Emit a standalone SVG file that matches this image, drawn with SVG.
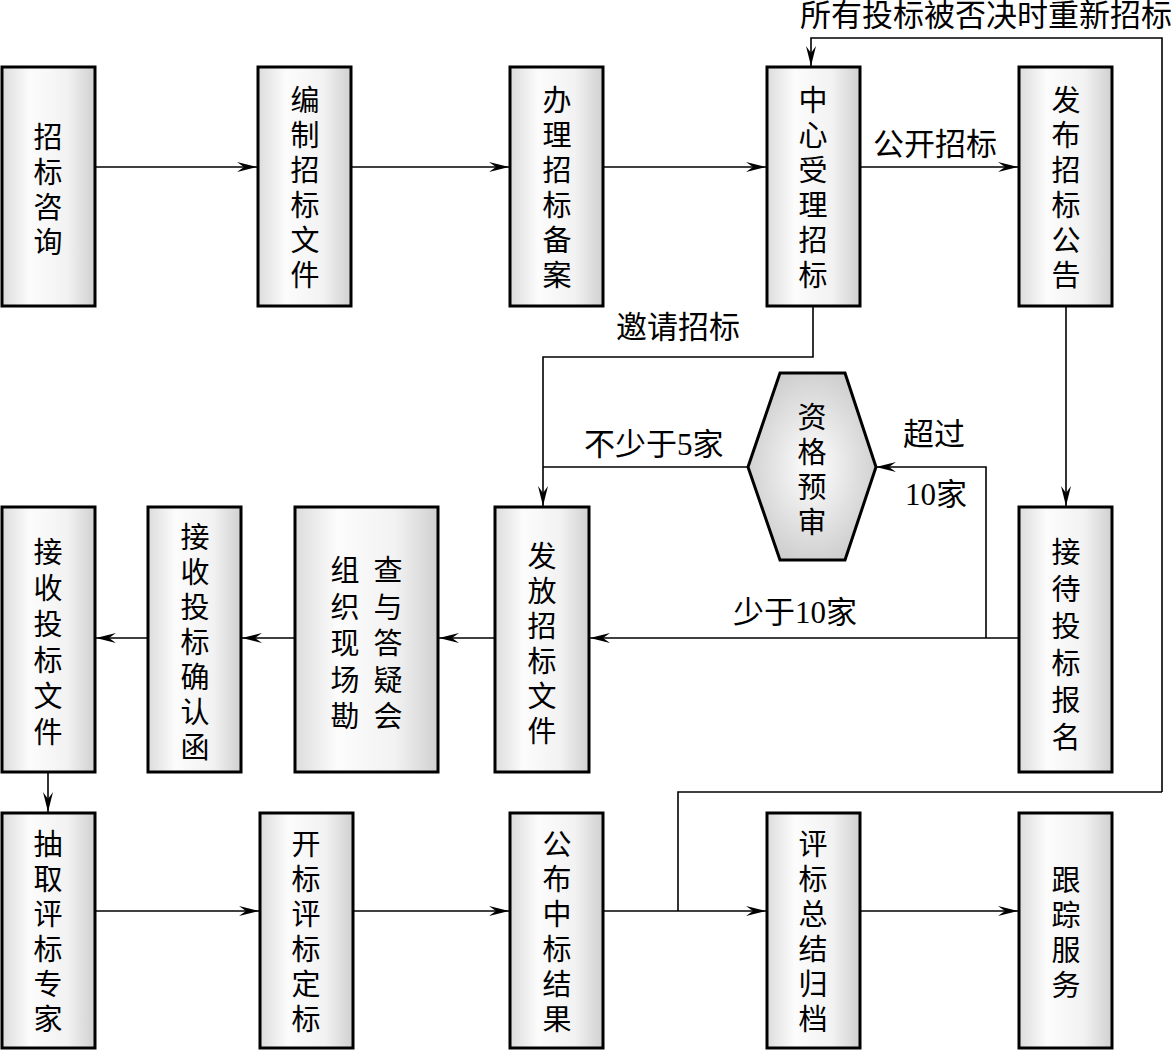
<svg xmlns="http://www.w3.org/2000/svg" width="1172" height="1050" viewBox="0 0 1172 1050">
<defs>
<linearGradient id="boxg" x1="0" y1="0" x2="1" y2="0">
<stop offset="0" stop-color="#dcdcdc"/>
<stop offset="0.3" stop-color="#fcfcfc"/>
<stop offset="0.7" stop-color="#f2f2f2"/>
<stop offset="1" stop-color="#d0d0d0"/>
</linearGradient>
<radialGradient id="hexg" cx="0.5" cy="0.5" r="0.6">
<stop offset="0" stop-color="#ffffff"/>
<stop offset="1" stop-color="#c8c8c8"/>
</radialGradient>
<marker id="arr" viewBox="-20 -6 21 12" refX="0" refY="0" markerWidth="21" markerHeight="12" markerUnits="userSpaceOnUse" orient="auto">
<path d="M0,0 L-20,-5 L-13,0 L-20,5 Z" fill="#000"/>
</marker>
</defs>
<style>
.box{fill:url(#boxg);stroke:#000;stroke-width:3}
.hex{fill:url(#hexg);stroke:#000;stroke-width:3}
.t{font-family:"Liberation Serif","Noto Sans CJK SC",serif;font-size:29px;fill:#000;text-anchor:middle}
.l{font-family:"Liberation Serif","Noto Sans CJK SC",serif;font-size:31px;fill:#000}
.c{fill:none;stroke:#000;stroke-width:1.6}
.a{marker-end:url(#arr)}
</style>
<rect width="1172" height="1050" fill="#fff"/>

<g id="connectors">
<path class="c a" d="M95,167 H257"/>
<path class="c a" d="M351,167 H509"/>
<path class="c a" d="M603,167 H766"/>
<path class="c a" d="M860,167 H1018"/>
<path class="c a" d="M1162,792 V38 H811 V66"/>
<path class="c a" d="M1066,306 V506"/>
<path class="c a" d="M813,306 V357 H543 V506"/>
<path class="c" d="M748,467 H543"/>
<path class="c a" d="M1019,638 H590"/>
<path class="c a" d="M986,638 V467 H876"/>
<path class="c a" d="M495,638 H439"/>
<path class="c a" d="M295,638 H242"/>
<path class="c a" d="M148,638 H96"/>
<path class="c a" d="M48,772 V812"/>
<path class="c a" d="M95,911 H259"/>
<path class="c a" d="M353,911 H509"/>
<path class="c a" d="M603,911 H766"/>
<path class="c" d="M678,911 V792 H1162"/>
<path class="c a" d="M860,911 H1018"/>
<text class="l" x="800" y="26">所有投标被否决时重新招标</text>
<text class="l" x="873" y="155">公开招标</text>
<text class="l" x="616" y="338">邀请招标</text>
<text class="l" x="584" y="455">不少于5家</text>
<text class="l" x="903" y="445">超过</text>
<text class="l" x="905" y="505">10家</text>
<text class="l" x="733" y="623">少于10家</text>
</g>

<g id="n1"><rect class="box" x="2" y="67" width="93" height="239"/>
<text class="t"><tspan x="48" y="148">招</tspan><tspan x="48" dy="35">标</tspan><tspan x="48" dy="35">咨</tspan><tspan x="48" dy="35">询</tspan></text></g>

<g id="n2"><rect class="box" x="258" y="67" width="93" height="239"/>
<text class="t"><tspan x="305" y="111">编</tspan><tspan x="305" dy="35">制</tspan><tspan x="305" dy="35">招</tspan><tspan x="305" dy="35">标</tspan><tspan x="305" dy="35">文</tspan><tspan x="305" dy="35">件</tspan></text></g>

<g id="n3"><rect class="box" x="510" y="67" width="93" height="239"/>
<text class="t"><tspan x="557" y="111">办</tspan><tspan x="557" dy="35">理</tspan><tspan x="557" dy="35">招</tspan><tspan x="557" dy="35">标</tspan><tspan x="557" dy="35">备</tspan><tspan x="557" dy="35">案</tspan></text></g>

<g id="n4"><rect class="box" x="767" y="67" width="93" height="239"/>
<text class="t"><tspan x="813" y="111">中</tspan><tspan x="813" dy="35">心</tspan><tspan x="813" dy="35">受</tspan><tspan x="813" dy="35">理</tspan><tspan x="813" dy="35">招</tspan><tspan x="813" dy="35">标</tspan></text></g>

<g id="n5"><rect class="box" x="1019" y="67" width="93" height="239"/>
<text class="t"><tspan x="1066" y="111">发</tspan><tspan x="1066" dy="35">布</tspan><tspan x="1066" dy="35">招</tspan><tspan x="1066" dy="35">标</tspan><tspan x="1066" dy="35">公</tspan><tspan x="1066" dy="35">告</tspan></text></g>

<g id="n6"><polygon class="hex" points="780,373 845,373 876,467 845,560 780,560 748,467"/>
<text class="t"><tspan x="812" y="428">资</tspan><tspan x="812" dy="35">格</tspan><tspan x="812" dy="35">预</tspan><tspan x="812" dy="35">审</tspan></text></g>

<g id="n7"><rect class="box" x="2" y="507" width="93" height="265"/>
<text class="t"><tspan x="48" y="563">接</tspan><tspan x="48" dy="36">收</tspan><tspan x="48" dy="36">投</tspan><tspan x="48" dy="36">标</tspan><tspan x="48" dy="36">文</tspan><tspan x="48" dy="36">件</tspan></text></g>

<g id="n8"><rect class="box" x="148" y="507" width="93" height="265"/>
<text class="t"><tspan x="195" y="548">接</tspan><tspan x="195" dy="35">收</tspan><tspan x="195" dy="35">投</tspan><tspan x="195" dy="35">标</tspan><tspan x="195" dy="35">确</tspan><tspan x="195" dy="35">认</tspan><tspan x="195" dy="35">函</tspan></text></g>

<g id="n9"><rect class="box" x="295" y="507" width="143" height="265"/>
<text class="t"><tspan x="345" y="581">组</tspan><tspan x="345" dy="36.5">织</tspan><tspan x="345" dy="36.5">现</tspan><tspan x="345" dy="36.5">场</tspan><tspan x="345" dy="36.5">勘</tspan></text>
<text class="t"><tspan x="388" y="581">查</tspan><tspan x="388" dy="36.5">与</tspan><tspan x="388" dy="36.5">答</tspan><tspan x="388" dy="36.5">疑</tspan><tspan x="388" dy="36.5">会</tspan></text></g>

<g id="n10"><rect class="box" x="495" y="507" width="94" height="265"/>
<text class="t"><tspan x="542" y="567">发</tspan><tspan x="542" dy="35">放</tspan><tspan x="542" dy="35">招</tspan><tspan x="542" dy="35">标</tspan><tspan x="542" dy="35">文</tspan><tspan x="542" dy="35">件</tspan></text></g>

<g id="n11"><rect class="box" x="1019" y="507" width="93" height="265"/>
<text class="t"><tspan x="1066" y="563">接</tspan><tspan x="1066" dy="37">待</tspan><tspan x="1066" dy="37">投</tspan><tspan x="1066" dy="37">标</tspan><tspan x="1066" dy="37">报</tspan><tspan x="1066" dy="37">名</tspan></text></g>

<g id="n12"><rect class="box" x="2" y="813" width="93" height="235"/>
<text class="t"><tspan x="48" y="855">抽</tspan><tspan x="48" dy="35">取</tspan><tspan x="48" dy="35">评</tspan><tspan x="48" dy="35">标</tspan><tspan x="48" dy="35">专</tspan><tspan x="48" dy="35">家</tspan></text></g>

<g id="n13"><rect class="box" x="260" y="813" width="93" height="235"/>
<text class="t"><tspan x="306" y="855">开</tspan><tspan x="306" dy="35">标</tspan><tspan x="306" dy="35">评</tspan><tspan x="306" dy="35">标</tspan><tspan x="306" dy="35">定</tspan><tspan x="306" dy="35">标</tspan></text></g>

<g id="n14"><rect class="box" x="510" y="813" width="93" height="235"/>
<text class="t"><tspan x="557" y="855">公</tspan><tspan x="557" dy="35">布</tspan><tspan x="557" dy="35">中</tspan><tspan x="557" dy="35">标</tspan><tspan x="557" dy="35">结</tspan><tspan x="557" dy="35">果</tspan></text></g>

<g id="n15"><rect class="box" x="767" y="813" width="93" height="235"/>
<text class="t"><tspan x="813" y="855">评</tspan><tspan x="813" dy="35">标</tspan><tspan x="813" dy="35">总</tspan><tspan x="813" dy="35">结</tspan><tspan x="813" dy="35">归</tspan><tspan x="813" dy="35">档</tspan></text></g>

<g id="n16"><rect class="box" x="1019" y="813" width="93" height="235"/>
<text class="t"><tspan x="1066" y="891">跟</tspan><tspan x="1066" dy="35">踪</tspan><tspan x="1066" dy="35">服</tspan><tspan x="1066" dy="35">务</tspan></text></g>
</svg>
